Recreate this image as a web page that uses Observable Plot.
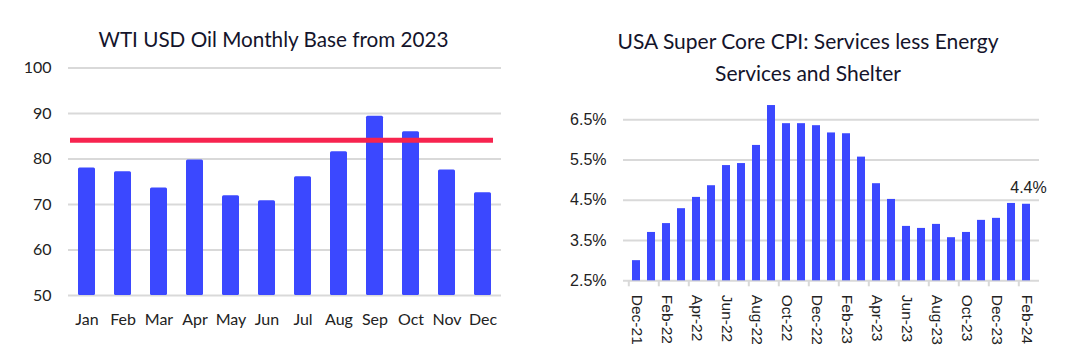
<!DOCTYPE html>
<html>
<head>
<meta charset="utf-8">
<script src="https://cdn.jsdelivr.net/npm/d3@7"></script>
<script src="https://cdn.jsdelivr.net/npm/@observablehq/plot@0.6"></script>
<style>
  html, body { margin: 0; padding: 0; background: #fff; }
  #wrap { position: relative; width: 1089px; height: 357px; overflow: hidden; }
  .title { position: absolute; font-family: Lato, sans-serif; color: #14142b; text-align: center; white-space: nowrap; }
  #leftTitle { left: 0; width: 547px; top: 26.5px; line-height: 24px; font-size: 20.7px; }
  #rightTitle { left: 608px; width: 400px; top: 25px; line-height: 32px; font-size: 21px; }
  #left { position: absolute; left: 0; top: 0; }
  #right { position: absolute; left: 545px; top: 0; }
</style>
</head>
<body>
<div id="wrap">
  <div id="left"></div>
  <div id="right"></div>
  <div class="title" id="leftTitle">WTI USD Oil Monthly Base from 2023</div>
  <div class="title" id="rightTitle">USA Super Core CPI: Services less Energy<br>Services and Shelter</div>
</div>
<script>
// ---- Left chart data ----
const months = ["Jan","Feb","Mar","Apr","May","Jun","Jul","Aug","Sep","Oct","Nov","Dec"];
const wti = [78.0, 77.2, 73.6, 79.8, 71.9, 70.8, 76.1, 81.6, 89.4, 86.0, 77.6, 72.6];
const wtiBase = 84.1;
const wtiTicks = [50, 60, 70, 80, 90, 100];

// ---- Right chart data ----
const cpiMonths = ["Dec-21","Jan-22","Feb-22","Mar-22","Apr-22","May-22","Jun-22","Jul-22","Aug-22","Sep-22","Oct-22","Nov-22","Dec-22",
  "Jan-23","Feb-23","Mar-23","Apr-23","May-23","Jun-23","Jul-23","Aug-23","Sep-23","Oct-23","Nov-23","Dec-23","Jan-24","Feb-24"];
const cpi = [3.00, 3.70, 3.92, 4.29, 4.57, 4.86, 5.36, 5.41, 5.86, 6.85, 6.40, 6.40, 6.35,
  6.17, 6.15, 5.57, 4.91, 4.52, 3.85, 3.80, 3.90, 3.57, 3.70, 4.00, 4.05, 4.42, 4.40];
const cpiTickLabels = ["Dec-21","Feb-22","Apr-22","Jun-22","Aug-22","Oct-22","Dec-22","Feb-23","Apr-23","Jun-23","Aug-23","Oct-23","Dec-23","Feb-24"];
const cpiTicks = [2.5, 3.5, 4.5, 5.5, 6.5];
const cpiLabelMonth = "Feb-24";

const BLUE = "#3b48ff";
const RED = "#f7244f";
const GRID = "#d9d9d9";
const INK = "#222";

const wtiData = months.map((m, i) => ({month: m, value: wti[i]}));
const cpiData = cpiMonths.map((m, i) => ({month: m, value: cpi[i]}));

// ---- Left chart ----
const L = {width: 520, height: 357, ml: 68, mr: 19, mt: 67.5, mb: 62};
const left = Plot.plot({
  width: L.width, height: L.height,
  marginLeft: L.ml, marginRight: L.mr, marginTop: L.mt, marginBottom: L.mb,
  style: {fontFamily: "Lato, sans-serif", color: INK, background: "transparent"},
  x: {type: "band", domain: months, paddingInner: 0.53, paddingOuter: 0.265, label: null},
  y: {domain: [50, 100], label: null},
  marks: [
    Plot.gridY(wtiTicks, {stroke: GRID, strokeOpacity: 1, strokeWidth: 2}),
    Plot.barY(wtiData, {x: "month", y1: 50, y2: "value", fill: BLUE, rx: 1.5}),
    Plot.ruleY([wtiBase], {stroke: RED, strokeWidth: 5, insetLeft: 2, insetRight: 8}),
    Plot.axisY(wtiTicks, {tickSize: 0, tickPadding: 17, fontSize: 16, label: null, fill: INK}),
    Plot.axisX({tickSize: 0, tickPadding: 18, fontSize: 16, label: null, fill: INK})
  ]
});
document.getElementById("left").appendChild(left);

// ---- Right chart ----
const R = {width: 544, height: 357, ml: 78, mr: 50, mt: 99, mb: 76.7};
const step = (R.width - R.ml - R.mr) / cpiMonths.length;
const right = Plot.plot({
  width: R.width, height: R.height,
  marginLeft: R.ml, marginRight: R.mr, marginTop: R.mt, marginBottom: R.mb,
  style: {fontFamily: "'Liberation Sans', Arial, sans-serif", color: INK, background: "transparent"},
  x: {type: "band", domain: cpiMonths, paddingInner: 0.435, paddingOuter: 0.2175, label: null},
  y: {domain: [2.5, 7.0], label: null},
  marks: [
    Plot.gridY(cpiTicks, {stroke: GRID, strokeOpacity: 1, strokeWidth: 2}),
    Plot.barY(cpiData, {x: "month", y1: 2.5, y2: "value", fill: BLUE}),
    Plot.axisY(cpiTicks, {tickSize: 0, tickPadding: 17, fontSize: 16, label: null, fill: INK,
      tickFormat: d => d.toFixed(1) + "%"}),
    Plot.axisX(cpiTickLabels, {tickSize: 6, tickFormat: () => "", dx: -step / 2, stroke: GRID, strokeWidth: 2, strokeOpacity: 1, label: null}),
    Plot.axisX(cpiTickLabels, {tickSize: 0, tickPadding: 14, tickRotate: 90, fontSize: 15.5, label: null, fill: INK}),
    Plot.text(cpiData.filter(d => d.month === cpiLabelMonth), {
      x: "month", y: "value", text: d => d.value.toFixed(1) + "%",
      dy: -11, dx: 2, lineAnchor: "bottom", fontSize: 16, fill: INK
    })
  ]
});
document.getElementById("right").appendChild(right);
</script>
</body>
</html>
